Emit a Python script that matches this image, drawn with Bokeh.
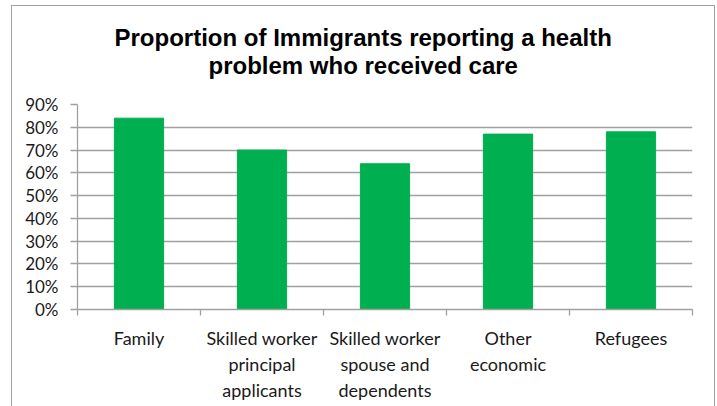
from bokeh.plotting import figure
from bokeh.models import (Range1d, FixedTicker, NumeralTickFormatter, Title, ColumnDataSource)
from bokeh.embed import file_html
from bokeh.resources import INLINE

categories = ["Family", "Skilled worker principal applicants",
              "Skilled worker spouse and dependents", "Other economic", "Refugees"]
tick_labels = ["Family", "Skilled worker\nprincipal\napplicants",
               "Skilled worker\nspouse and\ndependents", "Other\neconomic", "Refugees"]
values = [0.84, 0.70, 0.64, 0.77, 0.78]
y_ticks = [0.0, 0.1, 0.2, 0.3, 0.4, 0.5, 0.6, 0.7, 0.8, 0.9]
title_lines = ["Proportion of Immigrants reporting a health", "problem who received care"]

GRAY = "#a0a0a0"
TXT = "#1a1a1a"

n = len(categories)
centers = [i + 0.5 for i in range(n)]
boundaries = list(range(n + 1))
src = ColumnDataSource(dict(x=centers, top=values, cat=categories))

p = figure(width=702, height=402,
           x_range=Range1d(0, n), y_range=Range1d(0, 0.9),
           output_backend="svg", toolbar_location=None,
           min_border_left=65, min_border_right=22,
           min_border_top=98, min_border_bottom=99)
p.margin = (6, 0, 0, 12)
p.styles = {"outline": "1.5px solid #a0a0a0"}
p.outline_line_color = None
p.background_fill_color = "white"
p.border_fill_color = "white"

p.xaxis.ticker = FixedTicker(ticks=centers, minor_ticks=boundaries)
p.xaxis.major_label_overrides = {c: t for c, t in zip(centers, tick_labels)}
p.xaxis.major_tick_line_color = None
p.xaxis.major_tick_in = 0
p.xaxis.major_tick_out = 0
p.xaxis.minor_tick_in = 0
p.xaxis.minor_tick_out = 6
p.xaxis.minor_tick_line_color = GRAY
p.xaxis.minor_tick_line_width = 1.3
p.xaxis.axis_line_color = GRAY
p.xaxis.axis_line_width = 1.3
p.xaxis.major_label_standoff = 11
p.xaxis.major_label_text_font = "Lato"
p.xaxis.major_label_text_font_size = "18px"
p.xaxis.major_label_text_color = TXT

p.yaxis.ticker = FixedTicker(ticks=y_ticks)
p.yaxis.formatter = NumeralTickFormatter(format="0%")
p.yaxis.major_tick_in = 0
p.yaxis.major_tick_out = 7
p.yaxis.minor_tick_line_color = None
p.yaxis.axis_line_color = GRAY
p.yaxis.major_tick_line_color = GRAY
p.yaxis.axis_line_width = 1.3
p.yaxis.major_tick_line_width = 1.3
p.yaxis.major_label_standoff = 12
p.yaxis.major_label_text_font = "Lato"
p.yaxis.major_label_text_font_size = "17px"
p.yaxis.major_label_text_color = TXT

p.xgrid.visible = False
p.ygrid.grid_line_color = GRAY
p.ygrid.grid_line_width = 1.3

p.vbar(x="x", top="top", width=0.4, source=src,
       fill_color="#00B050", line_color="#00B050")

title_style = dict(align="left", text_font="Liberation Sans", text_font_style="bold",
                   text_font_size="24px", text_color="black")
try:
    t2 = Title(text=title_lines[1], offset=131, standoff=52, **title_style)
    t1 = Title(text=title_lines[0], offset=37, standoff=-54, **title_style)
except Exception:
    t2 = Title(text=title_lines[1], offset=131, standoff=0, **title_style)
    t1 = Title(text=title_lines[0], offset=37, standoff=0, **title_style)
p.add_layout(t2, "above")
p.add_layout(t1, "above")

open("out.html", "w").write(file_html(p, INLINE))
